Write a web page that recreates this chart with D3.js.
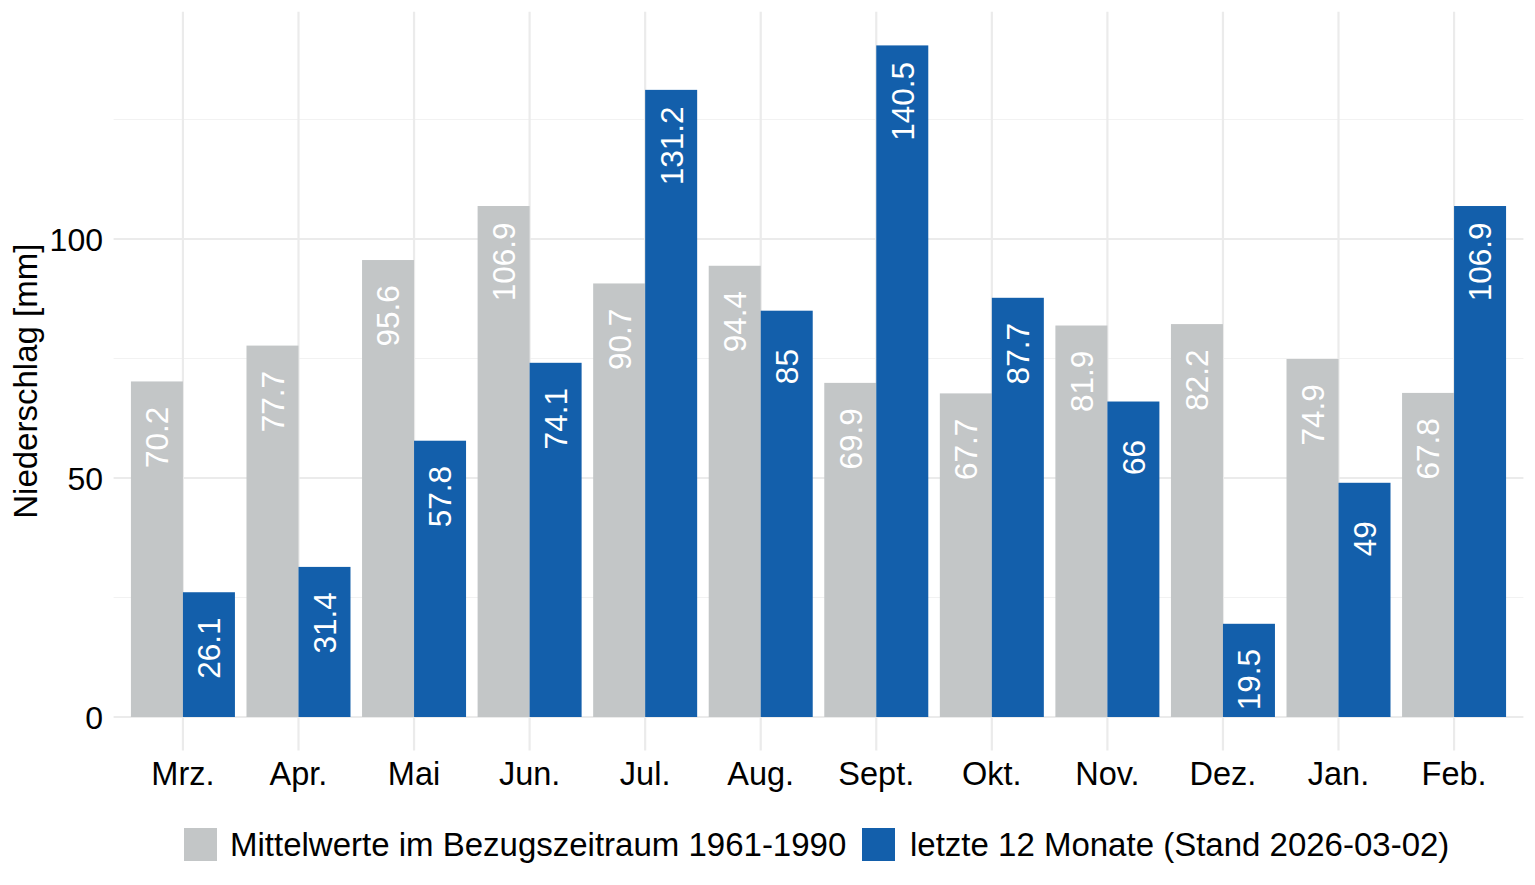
<!DOCTYPE html>
<html><head><meta charset="utf-8">
<script src="https://cdn.jsdelivr.net/npm/d3@7"></script>
<style>body{margin:0;background:#fff;} text{font-family:"Liberation Sans",Arial,sans-serif;}</style>
</head><body><svg id="c" width="1535" height="885"></svg>
<script>
const months = ["Mrz.","Apr.","Mai","Jun.","Jul.","Aug.","Sept.","Okt.","Nov.","Dez.","Jan.","Feb."];
const meanValues = [70.2,77.7,95.6,106.9,90.7,94.4,69.9,67.7,81.9,82.2,74.9,67.8];
const lastValues = [26.1,31.4,57.8,74.1,131.2,85,140.5,87.7,66,19.5,49,106.9];
const seriesNames = ["Mittelwerte im Bezugszeitraum 1961-1990","letzte 12 Monate (Stand 2026-03-02)"];
const majorTicks = [0,50,100];
const minorTicks = [25,75,125];
const colors = ["#c3c6c7","#135fab"];
const labelOffset = 11.7; // label centre sits this many mm below the bar top

const svg = d3.select("#c");
const L = 113.6, R = 1523.4;
const y = d3.scaleLinear().domain([0,100]).range([717,239]);
const yTop = y(147.525), yBot = y(-7.025);
const step = (R-L)/(months.length + 0.2);
const x = d3.scalePoint().domain(months).range([L+0.6*step, R-0.6*step]);
const bw = step*0.9/2;

const g = svg.append("g");
g.selectAll(".minor").data(minorTicks).join("line")
 .attr("x1",L).attr("x2",R).attr("y1",d=>y(d)).attr("y2",d=>y(d))
 .attr("stroke","#f2f2f2").attr("stroke-width",1.2);
g.selectAll(".major").data(majorTicks).join("line")
 .attr("x1",L).attr("x2",R).attr("y1",d=>y(d)).attr("y2",d=>y(d))
 .attr("stroke","#ebebeb").attr("stroke-width",2.2);
g.selectAll(".vg").data(months).join("line")
 .attr("x1",d=>x(d)).attr("x2",d=>x(d)).attr("y1",yTop).attr("y2",yBot)
 .attr("stroke","#ebebeb").attr("stroke-width",2.2);

const rows = months.map((m,i)=>({m, v:[meanValues[i], lastValues[i]]}));
rows.forEach(r=>{
  r.v.forEach((v,j)=>{
    const x0 = x(r.m) - bw + j*bw;
    g.append("rect").attr("x",x0).attr("width",bw).attr("y",y(v)).attr("height",y(0)-y(v)).attr("fill",colors[j]);
    const cx = x0 + bw/2, ty = y(v - labelOffset);
    g.append("text").attr("transform",`translate(${cx},${ty}) rotate(-90)`)
      .attr("text-anchor","middle").attr("dy","0.36em").attr("fill","#fff")
      .attr("font-size",31.5).text(String(v));
  });
});

svg.selectAll(".yt").data(majorTicks).join("text")
 .attr("x",103).attr("y",d=>y(d)).attr("dy","0.36em").attr("text-anchor","end")
 .attr("font-size",32).attr("fill","#000").text(d=>d);
svg.selectAll(".xt").data(months).join("text")
 .attr("x",d=>x(d)).attr("y",773.5).attr("dy","0.36em").attr("text-anchor","middle")
 .attr("font-size",32.5).attr("fill","#000").text(d=>d);
svg.append("text").attr("transform",`translate(25,${(yTop+yBot)/2}) rotate(-90)`)
 .attr("text-anchor","middle").attr("dy","0.36em").attr("font-size",33).attr("fill","#000").text("Niederschlag [mm]");
const leg = [{x:184, tx:230},{x:862, tx:910}];
leg.forEach((l,i)=>{
  svg.append("rect").attr("x",l.x).attr("y",828).attr("width",33).attr("height",33).attr("fill",colors[i]);
  svg.append("text").attr("x",l.tx).attr("y",844.5).attr("dy","0.36em").attr("font-size",33).attr("fill","#000").text(seriesNames[i]);
});
</script></body></html>
